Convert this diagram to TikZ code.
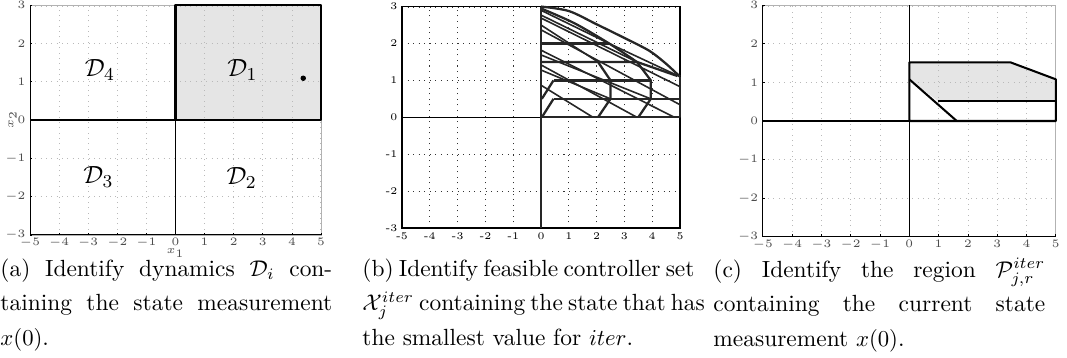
\documentclass[tikz,border=0pt]{standalone}
\usepackage{amsmath}
\newcommand{\capline}[1]{{\spaceskip=0pt\xspaceskip=0pt\makebox[146pt][s]{#1}}}
\begin{document}
\tikzset{
  gridline/.style={gray!55, dotted, line width=0.35pt},
  blackgrid/.style={black!80, dotted, line width=0.45pt},
  frameline/.style={gray!60, line width=0.3pt},
  axisline/.style={black, line width=0.6pt},
  region/.style={black, line width=0.9pt, line join=round},
  shaded/.style={fill=gray!20},
  setline/.style={black!85, line width=1pt, line join=round},
  hatch/.style={black!85, line width=0.7pt},
  tinylabel/.style={font=\fontsize{3}{3}\selectfont, inner sep=0.6pt, text=black!70},
  smalllabel/.style={font=\fontsize{4.5}{4.5}\selectfont, inner sep=0.8pt},
  dynlabel/.style={font=\fontsize{11}{11}\selectfont},
  caption/.style={anchor=north west, text width=146pt, align=left, inner sep=0pt,
    font=\fontsize{10.3}{15.3}\selectfont},
}
\begin{tikzpicture}[x=0.44pt, y=0.44pt]
  \useasboundingbox (0,0) rectangle (1067,358);
  % (a)
  \begin{scope}[shift={(175.5,238)}, xscale=29.1, yscale=38.3]
    \fill[shaded] (0,0) rectangle (5,3);
    \draw[gridline, step=1] (-5,-3) grid (5,3);
    \draw[frameline] (-5,-3) rectangle (5,3);
    \draw[axisline] (-5,0) -- (0,0) (0,-3) -- (0,0);
    \draw[region] (0,0) rectangle (5,3);
    \draw[black, line width=0.4pt] (-5,3) -- (-5,-3) -- (5,-3);
    \foreach \i in {-5,...,5}
      \draw[black, line width=0.3pt] (\i,-3) -- (\i,-2.94) node[tinylabel, below=0.8pt] at (\i,-3) {$\i$};
    \foreach \j in {-3,...,3}
      \draw[black, line width=0.3pt] (-5,\j) -- (-4.93,\j) node[tinylabel, left=1.3pt] at (-5,\j) {$\j$};
    \node[tinylabel, below=5.4pt] (xonea) at (0,-3) {$x_1$};
    \node[tinylabel, rotate=90] (xtwoa) at (-5.6,0) {$x_2$};
    \node[dynlabel] (done) at (2.3,1.3) {$\mathcal{D}_1$};
    \node[dynlabel] (dtwo) at (2.27,-1.52) {$\mathcal{D}_2$};
    \node[dynlabel] (dthree) at (-2.65,-1.48) {$\mathcal{D}_3$};
    \node[dynlabel] (dfour) at (-2.6,1.3) {$\mathcal{D}_4$};
    \node[circle, fill, inner sep=0pt, minimum size=2.4pt] (xzero) at (4.39,1.09) {};
  \end{scope}
  % (b)
  \begin{scope}[shift={(541,240.7)}, xscale=27.8, yscale=36.9]
    \draw[blackgrid, step=1] (-5,-3) grid (5,3);
    \draw[black, line width=0.5pt] (-5,-3) rectangle (5,3);
    \draw[axisline] (-5,0) -- (0,0) (0,-3) -- (0,0);
    \draw[hatch] (0,0.87) -- (1.87,0);
    \draw[hatch] (0,1.42) -- (3.45,0);
    \draw[hatch] (0,1.82) -- (4.8,0);
    \draw[hatch] (0,2.37) -- (5,0.34);
    \draw[hatch] (0,2.69) -- (5,0.83);
    \draw[hatch] (0,2.9) -- (2.45,2.0);
    \draw[hatch] (0,2.77) -- (3.45,1.5);
    \draw[hatch] (0,2.5) -- (2.05,1.5);
    \draw[hatch] (0,1.69) -- (3.95,0.5);
    \draw[hatch] (0,1.28) -- (2.5,0.5);
    \draw[hatch] (2.45,2.0) -- (5,1.1);
    \draw[setline] (0,0) -- (5,0) -- (5,1.1);
    \draw[setline] (0,-3) -- (0,3);
    \draw[setline] plot[smooth] coordinates {(0,3) (1,2.88) (2,2.52) (3,2.15) (3.9,1.8) (4.5,1.45) (5,1.1)};
    \draw[setline] plot[smooth] coordinates {(0,2.95) (1.2,2.55) (2.45,2.0) (3.45,1.5)};
    \draw[setline] (0,1.5) -- (3.45,1.5) -- (4.9,1.12);
    \draw[setline] (0,2) -- (2.45,2);
    \draw[setline] (0.45,1) -- (3.95,1);
    \draw[setline] (0.45,0.5) -- (5,0.5);
    \draw[setline] (0.45,1) -- (0.03,0.5);
    \draw[setline] (0.45,0.5) -- (0.03,0);
    \draw[setline] (2.05,1.5) -- (2.5,1.0) -- (2.5,0.5) -- (2.05,0);
    \draw[setline] (3.45,1.5) -- (3.95,1.0) -- (3.95,0.5) -- (3.5,0);
    \foreach \i in {-5,...,5}
      \node[smalllabel, below=1pt] at (\i,-3) {\i};
    \foreach \j in {-3,...,3}
      \node[smalllabel, left=1pt] at (-5,\j) {\j};
  \end{scope}
  % (c)
  \begin{scope}[shift={(909.3,237)}, xscale=29.3, yscale=38.6]
    \fill[shaded] (0,1.52) -- (3.45,1.52) -- (5,1.08) -- (5,0.52) -- (0.97,0.52) -- (0,1.08) -- cycle;
    \draw[gridline, step=1] (-5,-3) grid (5,3);
    \draw[frameline] (-5,-3) rectangle (5,3);
    \draw[black, line width=0.4pt] (-5,3) -- (-5,-3) -- (5,-3);
    \draw[axisline] (-5,0) -- (0,0) (0,-3) -- (0,3);
    \draw[region] (0,0) -- (5,0) -- (5,1.08) -- (3.45,1.52) -- (0,1.52) -- cycle;
    \draw[region] (0,1.08) -- (1.62,0);
    \draw[region] (0.97,0.52) -- (5,0.52);
    \foreach \i in {-5,...,5}
      \draw[black, line width=0.3pt] (\i,-3) -- (\i,-2.94) node[tinylabel, below=0.8pt] at (\i,-3) {$\i$};
    \foreach \j in {-3,...,3}
      \draw[black, line width=0.3pt] (-5,\j) -- (-4.93,\j) node[tinylabel, left=1.3pt] at (-5,\j) {$\j$};
  \end{scope}
  \node[caption] (capa) at (0,100) {\capline{(a) Identify dynamics $\mathcal{D}_i$ con-}\\
    \capline{taining the state measurement}\\ $x(0)$.};
  \node[caption] (capb) at (362,100) {\capline{(b) Identify feasible controller set}\\
    \capline{$\mathcal{X}^{iter}_j$ containing the state that has}\\ the smallest value for $iter$.};
  \node[caption] (capc) at (713,100) {\capline{(c) Identify the region $\mathcal{P}^{iter}_{j,r}$}\\
    \capline{containing the current state}\\ measurement $x(0)$.};
\end{tikzpicture}
\end{document}
